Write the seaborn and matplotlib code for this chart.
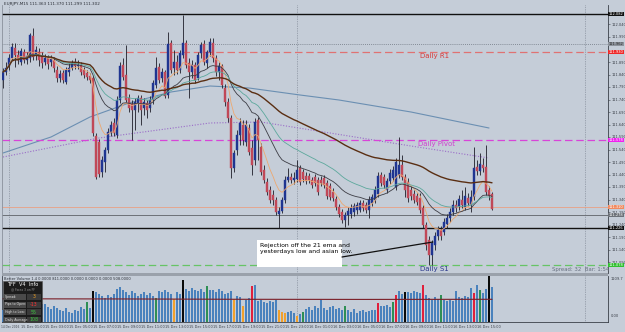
import numpy as np
import pandas as pd
import matplotlib
matplotlib.use("Agg")
import matplotlib.pyplot as plt
import seaborn as sns
from matplotlib.patches import Rectangle

# EURJPY M15, first bar 14 Dec 2016 23:30
symbol = "EURJPY,M15"
first_bar = "2016-12-14 23:30"

opens = [111.818, 111.850, 111.874, 111.906, 111.946, 111.918, 111.890, 111.930, 111.898, 111.906,
         111.994, 111.918, 111.930, 111.910, 111.890, 111.906, 111.890, 111.898, 111.858, 111.826,
         111.846, 111.810, 111.850, 111.866, 111.890, 111.874, 111.878, 111.858, 111.846, 111.834,
         111.826, 111.594, 111.570, 111.450, 111.490, 111.538, 111.606, 111.646, 111.598, 111.738,
         111.878, 111.838, 111.746, 111.722, 111.698, 111.726, 111.746, 111.706, 111.726, 111.706,
         111.738, 111.798, 111.870, 111.826, 111.850, 111.758, 111.966, 111.866, 111.890, 111.858,
         111.918, 111.966, 111.886, 111.850, 111.878, 111.826, 111.926, 111.962, 111.886, 111.930,
         111.966, 111.906, 111.850, 111.874, 111.786, 111.730, 111.666, 111.466, 111.538, 111.598,
         111.638, 111.570, 111.626, 111.546, 111.498, 111.658, 111.550, 111.458, 111.410, 111.378,
         111.358, 111.338, 111.282, 111.294, 111.338, 111.418, 111.430, 111.418, 111.422, 111.466,
         111.450, 111.434, 111.434, 111.418, 111.430, 111.418, 111.418, 111.426, 111.406, 111.394,
         111.370, 111.342, 111.310, 111.290, 111.258, 111.278, 111.282, 111.290, 111.298, 111.298,
         111.326, 111.318, 111.298, 111.326, 111.338, 111.362, 111.438, 111.430, 111.378, 111.414,
         111.426, 111.390, 111.438, 111.478, 111.430, 111.410, 111.378, 111.362, 111.354, 111.346,
         111.306, 111.238, 111.178, 111.118, 111.158, 111.194, 111.218, 111.210, 111.242, 111.266,
         111.290, 111.318, 111.314, 111.338, 111.310, 111.346, 111.318, 111.350, 111.470, 111.454,
         111.478, 111.470, 111.378, 111.363]
highs = [111.866, 111.890, 111.922, 111.966, 111.966, 111.938, 111.946, 111.942, 111.930, 112.006,
         112.026, 111.954, 111.946, 111.930, 111.922, 111.918, 111.918, 111.910, 111.874, 111.858,
         111.858, 111.870, 111.886, 111.898, 111.906, 111.898, 111.890, 111.870, 111.858, 111.846,
         111.834, 111.606, 111.582, 111.514, 111.550, 111.626, 111.654, 111.666, 111.754, 111.890,
         111.906, 111.958, 111.762, 111.738, 111.746, 111.758, 111.758, 111.746, 111.738, 111.754,
         111.818, 111.910, 111.886, 111.866, 111.858, 112.010, 111.978, 111.938, 111.918, 111.938,
         112.078, 111.978, 111.906, 111.898, 111.890, 111.930, 111.970, 111.978, 111.938, 111.986,
         111.986, 111.918, 111.890, 111.882, 111.802, 111.746, 111.678, 111.538, 111.618, 111.666,
         111.658, 111.658, 111.642, 111.578, 111.666, 111.670, 111.566, 111.478, 111.426, 111.394,
         111.378, 111.350, 111.310, 111.350, 111.434, 111.466, 111.446, 111.450, 111.498, 111.478,
         111.462, 111.450, 111.446, 111.430, 111.442, 111.430, 111.434, 111.438, 111.418, 111.406,
         111.386, 111.354, 111.322, 111.302, 111.290, 111.310, 111.322, 111.326, 111.330, 111.338,
         111.338, 111.330, 111.354, 111.362, 111.394, 111.450, 111.450, 111.442, 111.426, 111.462,
         111.474, 111.506, 111.590, 111.518, 111.442, 111.426, 111.394, 111.378, 111.366, 111.366,
         111.318, 111.250, 111.194, 111.178, 111.210, 111.234, 111.234, 111.266, 111.282, 111.306,
         111.338, 111.338, 111.358, 111.378, 111.390, 111.366, 111.378, 111.550, 111.498, 111.526,
         111.506, 111.558, 111.394, 111.370]
lows = [111.786, 111.838, 111.858, 111.898, 111.870, 111.882, 111.878, 111.886, 111.882, 111.890,
        111.898, 111.898, 111.874, 111.866, 111.878, 111.862, 111.874, 111.850, 111.810, 111.810,
        111.806, 111.802, 111.834, 111.858, 111.862, 111.862, 111.838, 111.826, 111.818, 111.806,
        111.594, 111.422, 111.430, 111.430, 111.450, 111.526, 111.594, 111.594, 111.586, 111.726,
        111.818, 111.730, 111.690, 111.578, 111.618, 111.690, 111.638, 111.678, 111.666, 111.690,
        111.722, 111.786, 111.806, 111.810, 111.746, 111.746, 111.846, 111.838, 111.842, 111.846,
        111.906, 111.866, 111.746, 111.826, 111.806, 111.818, 111.906, 111.878, 111.866, 111.914,
        111.890, 111.834, 111.818, 111.786, 111.714, 111.650, 111.426, 111.450, 111.518, 111.558,
        111.558, 111.554, 111.518, 111.438, 111.478, 111.498, 111.438, 111.406, 111.358, 111.326,
        111.318, 111.278, 111.226, 111.286, 111.326, 111.410, 111.406, 111.402, 111.410, 111.398,
        111.410, 111.402, 111.406, 111.386, 111.394, 111.358, 111.394, 111.386, 111.342, 111.338,
        111.334, 111.298, 111.270, 111.246, 111.230, 111.238, 111.266, 111.274, 111.282, 111.290,
        111.294, 111.286, 111.266, 111.314, 111.326, 111.350, 111.394, 111.386, 111.366, 111.402,
        111.414, 111.378, 111.426, 111.418, 111.350, 111.330, 111.338, 111.326, 111.318, 111.286,
        111.226, 111.138, 111.078, 111.078, 111.138, 111.178, 111.178, 111.198, 111.226, 111.250,
        111.278, 111.290, 111.298, 111.306, 111.298, 111.314, 111.290, 111.338, 111.438, 111.438,
        111.450, 111.358, 111.338, 111.299]
closes = [111.850, 111.866, 111.906, 111.950, 111.918, 111.898, 111.934, 111.898, 111.914, 111.998,
          111.910, 111.938, 111.898, 111.886, 111.906, 111.882, 111.902, 111.866, 111.826, 111.842,
          111.818, 111.858, 111.866, 111.886, 111.874, 111.878, 111.850, 111.838, 111.830, 111.818,
          111.606, 111.430, 111.442, 111.498, 111.538, 111.610, 111.638, 111.606, 111.738, 111.874,
          111.830, 111.738, 111.706, 111.698, 111.730, 111.746, 111.698, 111.730, 111.698, 111.738,
          111.806, 111.866, 111.818, 111.850, 111.754, 111.962, 111.858, 111.890, 111.858, 111.926,
          111.966, 111.878, 111.850, 111.878, 111.818, 111.918, 111.958, 111.890, 111.930, 111.970,
          111.906, 111.850, 111.874, 111.798, 111.730, 111.666, 111.466, 111.526, 111.598, 111.646,
          111.578, 111.638, 111.530, 111.478, 111.650, 111.578, 111.450, 111.418, 111.370, 111.338,
          111.338, 111.290, 111.294, 111.338, 111.418, 111.430, 111.418, 111.426, 111.458, 111.410,
          111.422, 111.414, 111.418, 111.398, 111.406, 111.370, 111.406, 111.398, 111.354, 111.350,
          111.346, 111.310, 111.282, 111.258, 111.278, 111.294, 111.306, 111.314, 111.318, 111.326,
          111.306, 111.298, 111.338, 111.350, 111.378, 111.434, 111.406, 111.398, 111.414, 111.446,
          111.458, 111.490, 111.478, 111.430, 111.378, 111.346, 111.354, 111.338, 111.330, 111.298,
          111.238, 111.158, 111.118, 111.166, 111.194, 111.218, 111.194, 111.250, 111.266, 111.290,
          111.318, 111.306, 111.342, 111.318, 111.354, 111.326, 111.350, 111.466, 111.454, 111.482,
          111.466, 111.370, 111.354, 111.302]

volumes = [288, 360, 408, 288, 240, 336, 384, 312, 432, 384,
           456, 408, 480, 432, 432, 360, 312, 384, 336, 288,
           264, 336, 240, 216, 288, 264, 360, 312, 480, 336,
           744, 720, 672, 624, 576, 648, 600, 672, 792, 840,
           768, 720, 648, 744, 696, 624, 672, 720, 648, 696,
           624, 576, 744, 720, 768, 720, 672, 552, 720, 672,
           1008, 792, 744, 816, 768, 744, 792, 720, 864, 768,
           768, 720, 792, 744, 672, 696, 744, 552, 624, 600,
           384, 528, 576, 864, 888, 504, 528, 480, 456, 504,
           480, 528, 288, 240, 216, 240, 264, 216, 144, 192,
           240, 312, 360, 288, 384, 336, 528, 336, 288, 360,
           384, 312, 336, 288, 384, 288, 240, 312, 216, 264,
           288, 240, 264, 288, 288, 456, 384, 384, 408, 360,
           480, 648, 744, 672, 720, 720, 696, 744, 720, 696,
           888, 648, 576, 528, 600, 552, 648, 528, 504, 528,
           504, 744, 600, 576, 624, 600, 816, 696, 888, 768,
           696, 792, 1104, 840]
# Better Volume bar types (all others are normal)
vol_types = {28: "churn", 30: "climax", 51: "churn", 57: "low", 60: "climax", 68: "churn",
             77: "low", 80: "low", 83: "climax_up", 92: "low", 93: "low", 94: "low", 98: "low",
             100: "churn", 114: "churn", 125: "climax_up", 130: "churn", 131: "climax_up",
             134: "climax", 140: "climax_up", 146: "churn", 157: "climax_up", 159: "churn",
             162: "climax"}
vol_avg_bar = [0, 40, 80, 120, 163]
vol_avg = [560, 556, 548, 545, 548]

# slow averages
slow_ma_bar = [0, 16, 29, 42, 56, 69, 82, 99, 112, 136, 162]
slow_ma = [111.526, 111.590, 111.670, 111.726, 111.770, 111.794, 111.786, 111.758, 111.738, 111.690, 111.626]
dot_ma_bar = [0, 32, 69, 86, 109, 136, 162]
dot_ma = [111.510, 111.586, 111.646, 111.650, 111.606, 111.554, 111.506]

# horizontal levels
top_line = 112.082
prev_dot = 111.962
daily_r1 = 111.930
daily_pivot = 111.578
bid_line = 111.310
ask_line = 111.278
low_line = 111.226
daily_s1 = 111.078

note = "Rejection off the 21 ema and\nyesterdays low and asian low."

bg = "#c5cdd8"
sns.set_style("white")
plt.rcParams["font.family"] = ["DejaVu Sans"]

W, H = 625, 332
fig = plt.figure(figsize=(6.25, 3.32), dpi=100, facecolor=bg)


def px_rect(x0, y0, x1, y1):
    return [x0 / W, 1 - y1 / H, (x1 - x0) / W, (y1 - y0) / H]


def fig_box(x0, y0, x1, y1, **kw):
    fig.add_artist(Rectangle((x0 / W, 1 - y1 / H), (x1 - x0) / W, (y1 - y0) / H,
                             transform=fig.transFigure, **kw))


def fig_txt(x, y, s, **kw):
    fig.text(x / W, 1 - y / H, s, va="center", **kw)


ax = fig.add_axes(px_rect(2, 5, 608, 273), facecolor=bg)
axv = fig.add_axes(px_rect(2, 276, 608, 322), facecolor=bg)

idx = np.arange(len(closes))
o, h, l, c = map(np.array, (opens, highs, lows, closes))
up = c >= o
body_col = np.where(up, "#1f3591", "#c04858")

# candles
ax.vlines(idx, l, h, color="#1d1d28", linewidth=0.6, zorder=3)
ax.bar(idx, np.maximum(np.abs(c - o), 0.002), bottom=np.minimum(o, c), width=0.72,
       color=body_col, edgecolor=body_col, linewidth=0.3, zorder=4)

# moving averages
cs = pd.Series(c)
for span, col, lw in [(8, "#eda870", 0.6), (21, "#3c3c44", 0.6), (34, "#5ca89c", 0.6), (89, "#5a2e12", 1.0)]:
    sns.lineplot(x=idx, y=cs.ewm(span=span).mean().values, ax=ax, color=col, linewidth=lw, zorder=5)
sns.lineplot(x=slow_ma_bar, y=slow_ma, ax=ax, color="#6b8fb2", linewidth=0.8, zorder=2)
sns.lineplot(x=dot_ma_bar, y=dot_ma, ax=ax, color="#9a6cc8", linewidth=0.8, linestyle=(0, (1, 1.5)), zorder=2)

# levels
ax.axhline(top_line, color="#111111", lw=1.0, zorder=2)
ax.axhline(prev_dot, color="#6d7580", lw=0.6, ls=(0, (1, 1.5)), zorder=2)
ax.axhline(daily_r1, color="#e07272", lw=0.9, ls=(0, (6, 3)), zorder=2)
ax.axhline(daily_pivot, color="#d844d8", lw=0.9, ls=(0, (6, 3)), zorder=2)
ax.axhline(bid_line, color="#eaa084", lw=0.6, zorder=2)
ax.axhline(ask_line, color="#6c7178", lw=0.7, zorder=2)
ax.axhline(low_line, color="#111111", lw=1.0, zorder=2)
ax.axhline(daily_s1, color="#66c466", lw=0.9, ls=(0, (6, 3)), zorder=2)

ax.text(139, daily_r1 - 0.004, "Daily R1", color="#d83a3a", fontsize=5, va="top")
ax.text(138.5, daily_pivot - 0.004, "Daily Pivot", color="#d040d0", fontsize=5, va="top")
ax.text(139, daily_s1 - 0.003, "Daily S1", color="#2d3a8c", fontsize=5, va="top")

# day separators
times = pd.date_range(first_bar, periods=len(closes), freq="15min")
day_start = [i for i, t in enumerate(times) if t.hour == 0 and t.minute == 0] + [194]
for d in day_start:
    ax.axvline(d, color="#727a88", lw=0.5, ls=(0, (1, 1.5)), zorder=1)
    axv.axvline(d, color="#727a88", lw=0.5, ls=(0, (1, 1.5)), zorder=1)

# annotation
ax.add_patch(Rectangle((84.7, 111.070), 28.3, 0.108, fc="white", ec="none", zorder=6))
ax.text(85.6, 111.166, note, fontsize=4.4, color="black", va="top", linespacing=1.3, zorder=7)
ax.plot([113, 143.3], [111.110, 111.170], color="#111111", lw=0.9, zorder=7)
ax.text(183, 111.058, "Spread: 32  Bar: 1:54", fontsize=3.9, color="#687080", va="center")

tags = [(top_line, "#111111", "white"), (prev_dot, "#8d939c", "#2a2a2a"),
        (daily_r1, "#f02828", "white"), (daily_pivot, "#f020f0", "white"),
        (bid_line, "#f08a60", "white"), (ask_line, "#6c7178", "white"),
        (low_line, "#111111", "white"), (daily_s1, "#30c030", "white")]
tag_vals = np.array([t[0] for t in tags])

ax.set_xlim(-1 / 3, 201 + 2 / 3)
ax.set_ylim(111.046, 112.118)
ax.yaxis.tick_right()
yt = np.round(np.arange(111.09, 112.1, 0.05), 3)
yt = [v for v in yt if np.min(np.abs(tag_vals - v)) > 0.012]  # hidden behind price tags
ax.set_yticks(yt)
ax.set_yticklabels([f"{v:.3f}" for v in yt], fontsize=2.6, color="#3a3f48")
ax.tick_params(axis="y", length=1.5, pad=0.8, width=0.4, colors="#3a3f48")
ax.tick_params(axis="x", length=0, labelbottom=False)
for s in ["top", "bottom"]:
    ax.spines[s].set_visible(False)
ax.spines["left"].set_color("#8a919c")
ax.spines["right"].set_color("#3a3f48")
ax.spines["left"].set_linewidth(0.6)
ax.spines["right"].set_linewidth(0.6)

tag_tr = ax.get_yaxis_transform()
for val, fc, tc in tags:
    ax.text(1.0015, val, f"{val:.3f}", transform=tag_tr, fontsize=2.6, color=tc, va="center", ha="left",
            bbox=dict(boxstyle="square,pad=0.12", fc=fc, ec="none"), zorder=8)

# volume panel
vol_palette = {"normal": "#4a82bd", "climax": "#0a0a0a", "climax_up": "#e0203c",
               "churn": "#2f8f55", "low": "#f0a02c"}
vcol = [vol_palette[vol_types.get(i, "normal")] for i in idx]
axv.bar(idx, volumes, width=0.8, color=vcol, linewidth=0, zorder=3)
sns.lineplot(x=vol_avg_bar, y=vol_avg, ax=axv, color="#7a1d26", linewidth=0.8, zorder=4)
axv.set_xlim(ax.get_xlim())
axv.set_ylim(0, 1110)
axv.set_yticks([])
tick_bars = list(range(6, len(closes), 8))
tick_labels = [times[i].strftime("%d %b %H:%M") for i in tick_bars]
axv.set_xticks([0] + tick_bars)
axv.set_xticklabels([""] + tick_labels, fontsize=2.5, ha="left", color="#3a3f48")
axv.tick_params(axis="x", length=1.5, pad=1, width=0.4, colors="#3a3f48")
fig_txt(1, 326.6, times[0].strftime("%d %b %Y"), fontsize=2.1, color="#3a3f48", ha="left")
axv.spines["top"].set_visible(False)
for s in ["left", "right", "bottom"]:
    axv.spines[s].set_color("#3a3f48")
    axv.spines[s].set_linewidth(0.6)
axv.text(1.004, 0.97, "1109.7", transform=axv.transAxes, fontsize=2.6, color="#3a3f48", va="top")
axv.text(1.004, 0.08, "0.00", transform=axv.transAxes, fontsize=2.6, color="#3a3f48", va="bottom")

# panel separator and titles
fig_box(2, 273, 608, 276, fc="#9aa1ab", ec="none")
fig_txt(4, 4, f"{symbol} {opens[-1]:.3f} {highs[-1]:.3f} {lows[-1]:.3f} {closes[-1]:.3f}",
        fontsize=3.0, color="#2a2e36")
fig_txt(4, 278.5, "Better Volume 1.4 0.0000 811.0000 0.0000 0.0000 0.0000 508.0000",
        fontsize=2.6, color="#2a2e36")

# info panel
fig_box(3, 281, 42, 322, fc="#1c1c1c", ec="#555555", lw=0.4, zorder=10)
fig_txt(22.5, 285, "TFF  V4  Info", fontsize=3.6, color="white", ha="center", zorder=11)
fig_txt(22.5, 289.5, "@ Forex 3 on FF", fontsize=2.2, color="#9a9a9a", ha="center", zorder=11)
info_rows = ["Spread:", "Pips to Open:", "High to Low:", "Daily Average:"]
info_vals = ["3", "-13", "55", "108"]
info_cols = ["#f0a020", "#ff3030", "#3cc040", "#3cc040"]
for k, (lab, val, vc) in enumerate(zip(info_rows, info_vals, info_cols)):
    yy = 297 + k * 7.5
    fig_box(4, yy - 3, 26, yy + 3, fc="#4a4a4a", ec="none", zorder=11)
    fig_box(27, yy - 3, 41, yy + 3, fc="#3a3a3a", ec="none", zorder=11)
    fig_txt(5, yy, lab, fontsize=2.3, color="#e0e0e0", zorder=12)
    fig_txt(34, yy, val, fontsize=3.4, color=vc, ha="center", zorder=12)

fig.savefig("out.png", dpi=100, facecolor=bg)
